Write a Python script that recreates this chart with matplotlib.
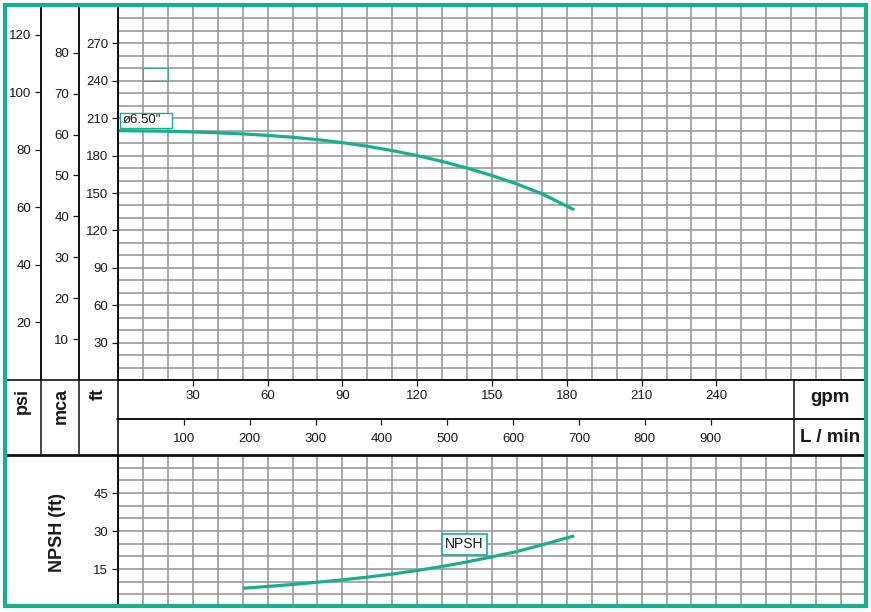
import matplotlib
matplotlib.use("Agg")
import matplotlib.pyplot as plt
from matplotlib.lines import Line2D
from matplotlib.patches import Rectangle
import numpy as np

plt.rcParams['font.family'] = ['Liberation Sans', 'DejaVu Sans']

# pump head curve (gpm -> ft)
flow_head = [0, 10, 20, 30, 40, 50, 60, 70, 80, 90, 100, 110, 120, 130, 140, 150, 160, 170, 183]
head_ft = [200, 199.8, 199.5, 199.0, 198.3, 197.4, 196.2, 194.7, 192.8, 190.4, 187.5,
           184.0, 180.0, 175.3, 170.0, 164.0, 157.2, 149.4, 136.5]

# NPSH curve (gpm -> ft)
flow_npsh = [50, 60, 70, 80, 90, 100, 110, 120, 130, 140, 150, 160, 170, 183]
npsh_ft = [7.4, 8.1, 8.9, 9.8, 10.7, 11.8, 13, 14.4, 16, 17.8, 19.8, 21.9, 24.5, 28.1]

gpm_ticks = [30, 60, 90, 120, 150, 180, 210, 240]
lmin_ticks = [100, 200, 300, 400, 500, 600, 700, 800, 900]
ft_ticks = [30, 60, 90, 120, 150, 180, 210, 240, 270]
psi_ticks = [20, 40, 60, 80, 100, 120]
mca_ticks = [10, 20, 30, 40, 50, 60, 70, 80]
npsh_ticks = [15, 30, 45]

diam_label = 'ø6.50"'
npsh_label = 'NPSH'

GPM_MAX = 300
FT_MAX = 300
NPSH_MAX = 60
FT_PER_PSI = 2.30666
FT_PER_MCA = 3.28084
LMIN_PER_GPM = 3.78541

teal = '#17b08c'
gridc = '#9a9a9a'
txt = '#1a1a1a'

W, H = 871, 612
fig = plt.figure(figsize=(W / 100, H / 100), dpi=100)


def box(x0, y0, x1, y1):
    return [x0 / W, 1 - y1 / H, (x1 - x0) / W, (y1 - y0) / H]


def fline(x0, y0, x1, y1, lw=1.1, c='#111111'):
    fig.add_artist(Line2D([x0 / W, x1 / W], [1 - y0 / H, 1 - y1 / H],
                          transform=fig.transFigure, color=c, lw=lw, zorder=5))


# ---- main head chart
ax = fig.add_axes(box(118, 6, 866, 380))
ax.set_xlim(0, GPM_MAX)
ax.set_ylim(0, FT_MAX)
ax.set_xticks(gpm_ticks)
ax.set_xticks(np.arange(0, GPM_MAX + 1, 10), minor=True)
ax.set_yticks(ft_ticks)
ax.set_yticks(np.arange(0, FT_MAX + 1, 10), minor=True)
ax.grid(True, which='both', color=gridc, lw=1.2)
ax.set_axisbelow(True)
ax.tick_params(which='major', direction='out', length=4, width=0.9, labelsize=9.5,
               colors=txt, pad=3)
ax.tick_params(which='minor', length=0)
for s in ['top', 'right']:
    ax.spines[s].set_visible(False)
for s in ['left', 'bottom']:
    ax.spines[s].set_linewidth(1.2)
ax.plot(flow_head, head_ft, color=teal, lw=2.3, solid_capstyle='butt', zorder=3)
ax.add_patch(Rectangle((0.8, 202.1), 20.9, 12.1, fc='white', ec=teal, lw=1, zorder=4))
ax.text(2.0, 208.2, diam_label, fontsize=9.5, va='center', ha='left', color=txt, zorder=5)
ax.add_patch(Rectangle((10, 240), 10, 10, fill=False, ec=teal, lw=0.7, alpha=0.8, zorder=4))

# ---- psi and mca axes
for xpx, top, ticks in [(41, FT_MAX / FT_PER_PSI, psi_ticks), (79, FT_MAX / FT_PER_MCA, mca_ticks)]:
    a = fig.add_axes(box(xpx, 6, xpx + 1, 380))
    a.set_ylim(0, top)
    a.set_yticks(ticks)
    a.set_xticks([])
    a.patch.set_visible(False)
    for s in ['top', 'right', 'bottom']:
        a.spines[s].set_visible(False)
    a.spines['left'].set_linewidth(1.2)
    a.tick_params(direction='out', length=4, width=0.9, labelsize=9.5, colors=txt, pad=3)

# ---- L/min scale
al = fig.add_axes(box(118, 419, 866, 429))
al.set_xlim(0, GPM_MAX * LMIN_PER_GPM)
al.set_xticks(lmin_ticks)
al.set_yticks([])
al.patch.set_visible(False)
for s in ['left', 'right', 'bottom']:
    al.spines[s].set_visible(False)
al.spines['top'].set_linewidth(1.2)
al.xaxis.set_tick_params(top=True, bottom=False, labelbottom=True, labeltop=False,
                         direction='in', length=4, width=0.9, labelsize=9.5,
                         colors=txt, pad=3)

# ---- NPSH chart
an = fig.add_axes(box(118, 455, 866, 607))
an.set_xlim(0, GPM_MAX)
an.set_ylim(0, NPSH_MAX)
an.set_xticks(np.arange(0, GPM_MAX + 1, 10))
an.set_yticks(npsh_ticks)
an.set_yticks(np.arange(0, NPSH_MAX + 1, 5), minor=True)
an.grid(True, which='both', color=gridc, lw=1.2)
an.set_axisbelow(True)
an.tick_params(axis='x', length=0, labelbottom=False)
an.tick_params(axis='y', which='major', direction='out', length=4, width=0.9,
               labelsize=9.5, colors=txt, pad=3)
an.tick_params(axis='y', which='minor', length=0)
for s in ['top', 'right', 'bottom']:
    an.spines[s].set_visible(False)
an.spines['left'].set_linewidth(1.2)
an.plot(flow_npsh, npsh_ft, color=teal, lw=2.3, solid_capstyle='butt', zorder=3)
an.text(139, 24.7, npsh_label, fontsize=10, ha='center', va='center', color=txt,
        bbox=dict(boxstyle='square,pad=0.25', fc='white', ec=teal, lw=1.2), zorder=5)

# ---- frame lines
fline(5, 380, 866, 380, lw=1.2)
fline(117, 419, 866, 419, lw=1.1)
fline(5, 455, 866, 455, lw=2.0)
fline(41, 6, 41, 455)
fline(79, 6, 79, 455)
fline(117.5, 6, 117.5, 607, lw=1.2)
fline(794, 380, 794, 455)

# ---- unit labels
for xpx, lab in [(22, 'psi'), (61, 'mca'), (98, 'ft')]:
    fig.text(xpx / W, 1 - 388 / H, lab, rotation=90, ha='center', va='top',
             fontsize=13, fontweight='bold', color=txt)
fig.text(830 / W, 1 - 398 / H, 'gpm', ha='center', va='center', fontsize=13.5,
         fontweight='bold', color=txt)
fig.text(830 / W, 1 - 437 / H, 'L / min', ha='center', va='center', fontsize=13.5,
         fontweight='bold', color=txt)
fig.text(58 / W, 1 - 533 / H, 'NPSH (ft)', rotation=90, ha='center', va='center',
         fontsize=13, fontweight='bold', color=txt)

# ---- outer green frame
fig.add_artist(Rectangle((5 / W, 1 - 606 / H), 861 / W, 601 / H, transform=fig.transFigure,
                         fill=False, ec=teal, lw=3, zorder=10))

fig.savefig('out.png', dpi=100)
